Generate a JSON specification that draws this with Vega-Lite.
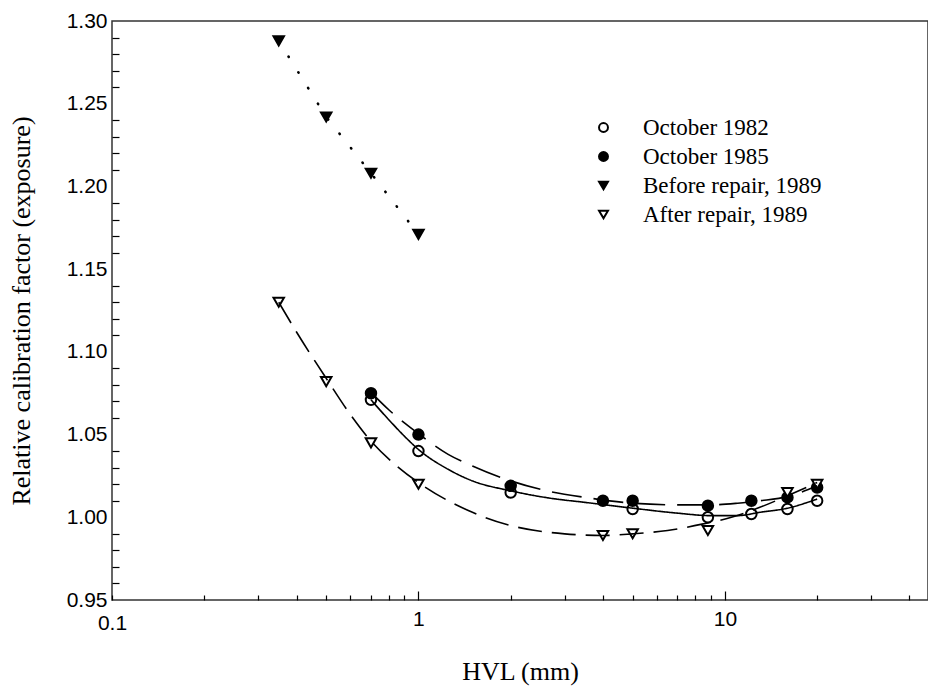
{
  "$schema": "https://vega.github.io/schema/vega-lite/v6.json",
  "width": 816,
  "height": 579,
  "autosize": {"type": "none"},
  "padding": {"left": 112, "top": 21, "right": 0, "bottom": 86},
  "background": "white",
  "config": {
    "view": {"stroke": "#333", "strokeWidth": 1.5},
    "axis": {
      "domain": false,
      "grid": false,
      "tickColor": "black",
      "tickWidth": 1.2,
      "labelFont": "Liberation Sans",
      "labelFontSize": 21,
      "labelColor": "black",
      "titleFont": "Liberation Serif",
      "titleFontSize": 26,
      "titleFontWeight": "normal",
      "titleColor": "black"
    },
    "legend": {
      "orient": "none",
      "legendX": 480,
      "legendY": 95,
      "padding": 0,
      "labelFont": "Liberation Serif",
      "labelFontSize": 23,
      "labelColor": "black",
      "labelOffset": 28,
      "labelLimit": 0,
      "rowPadding": 5,
      "symbolSize": 80,
      "symbolStrokeWidth": 2
    }
  },
  "datasets": {
    "points": [
      {"series": "October 1982", "hvl": 0.7, "factor": 1.071},
      {"series": "October 1982", "hvl": 1, "factor": 1.040},
      {"series": "October 1982", "hvl": 2, "factor": 1.015},
      {"series": "October 1982", "hvl": 5, "factor": 1.005},
      {"series": "October 1982", "hvl": 8.8, "factor": 1.000},
      {"series": "October 1982", "hvl": 12.2, "factor": 1.002},
      {"series": "October 1982", "hvl": 16, "factor": 1.005},
      {"series": "October 1982", "hvl": 20, "factor": 1.010},
      {"series": "October 1985", "hvl": 0.7, "factor": 1.075},
      {"series": "October 1985", "hvl": 1, "factor": 1.050},
      {"series": "October 1985", "hvl": 2, "factor": 1.019},
      {"series": "October 1985", "hvl": 4, "factor": 1.010},
      {"series": "October 1985", "hvl": 5, "factor": 1.010},
      {"series": "October 1985", "hvl": 8.8, "factor": 1.007},
      {"series": "October 1985", "hvl": 12.2, "factor": 1.010},
      {"series": "October 1985", "hvl": 16, "factor": 1.012},
      {"series": "October 1985", "hvl": 20, "factor": 1.018},
      {"series": "Before repair, 1989", "hvl": 0.35, "factor": 1.288},
      {"series": "Before repair, 1989", "hvl": 0.5, "factor": 1.242},
      {"series": "Before repair, 1989", "hvl": 0.7, "factor": 1.208},
      {"series": "Before repair, 1989", "hvl": 1, "factor": 1.171},
      {"series": "After repair, 1989", "hvl": 0.35, "factor": 1.130},
      {"series": "After repair, 1989", "hvl": 0.5, "factor": 1.082},
      {"series": "After repair, 1989", "hvl": 0.7, "factor": 1.045},
      {"series": "After repair, 1989", "hvl": 1, "factor": 1.020},
      {"series": "After repair, 1989", "hvl": 4, "factor": 0.989},
      {"series": "After repair, 1989", "hvl": 5, "factor": 0.990},
      {"series": "After repair, 1989", "hvl": 8.8, "factor": 0.992},
      {"series": "After repair, 1989", "hvl": 16, "factor": 1.015},
      {"series": "After repair, 1989", "hvl": 20, "factor": 1.020}
    ],
    "fits": [
      {"series": "October 1982", "hvl": 0.7, "factor": 1.071},
      {"series": "October 1982", "hvl": 0.8, "factor": 1.059},
      {"series": "October 1982", "hvl": 0.9, "factor": 1.049},
      {"series": "October 1982", "hvl": 1, "factor": 1.041},
      {"series": "October 1982", "hvl": 1.25, "factor": 1.029},
      {"series": "October 1982", "hvl": 1.5, "factor": 1.022},
      {"series": "October 1982", "hvl": 2, "factor": 1.016},
      {"series": "October 1982", "hvl": 2.7, "factor": 1.0115},
      {"series": "October 1982", "hvl": 3.5, "factor": 1.009},
      {"series": "October 1982", "hvl": 5, "factor": 1.0055},
      {"series": "October 1982", "hvl": 7, "factor": 1.0025},
      {"series": "October 1982", "hvl": 9, "factor": 1.001},
      {"series": "October 1982", "hvl": 11, "factor": 1.001},
      {"series": "October 1982", "hvl": 13, "factor": 1.003},
      {"series": "October 1982", "hvl": 16, "factor": 1.0055},
      {"series": "October 1982", "hvl": 20, "factor": 1.011},
      {"series": "October 1985", "hvl": 0.7, "factor": 1.0755},
      {"series": "October 1985", "hvl": 0.8, "factor": 1.065},
      {"series": "October 1985", "hvl": 0.9, "factor": 1.057},
      {"series": "October 1985", "hvl": 1, "factor": 1.0505},
      {"series": "October 1985", "hvl": 1.25, "factor": 1.038},
      {"series": "October 1985", "hvl": 1.5, "factor": 1.031},
      {"series": "October 1985", "hvl": 2, "factor": 1.022},
      {"series": "October 1985", "hvl": 2.7, "factor": 1.0155},
      {"series": "October 1985", "hvl": 3.5, "factor": 1.012},
      {"series": "October 1985", "hvl": 5, "factor": 1.0085},
      {"series": "October 1985", "hvl": 7, "factor": 1.0075},
      {"series": "October 1985", "hvl": 9, "factor": 1.0075},
      {"series": "October 1985", "hvl": 11, "factor": 1.0085},
      {"series": "October 1985", "hvl": 13, "factor": 1.010},
      {"series": "October 1985", "hvl": 16, "factor": 1.0125},
      {"series": "October 1985", "hvl": 20, "factor": 1.019},
      {"series": "After repair, 1989", "hvl": 0.35, "factor": 1.130},
      {"series": "After repair, 1989", "hvl": 0.4, "factor": 1.112},
      {"series": "After repair, 1989", "hvl": 0.5, "factor": 1.084},
      {"series": "After repair, 1989", "hvl": 0.6, "factor": 1.062},
      {"series": "After repair, 1989", "hvl": 0.7, "factor": 1.046},
      {"series": "After repair, 1989", "hvl": 0.85, "factor": 1.031},
      {"series": "After repair, 1989", "hvl": 1, "factor": 1.021},
      {"series": "After repair, 1989", "hvl": 1.5, "factor": 1.003},
      {"series": "After repair, 1989", "hvl": 2, "factor": 0.995},
      {"series": "After repair, 1989", "hvl": 3, "factor": 0.990},
      {"series": "After repair, 1989", "hvl": 4, "factor": 0.989},
      {"series": "After repair, 1989", "hvl": 5, "factor": 0.990},
      {"series": "After repair, 1989", "hvl": 6.5, "factor": 0.992},
      {"series": "After repair, 1989", "hvl": 8.5, "factor": 0.996},
      {"series": "After repair, 1989", "hvl": 10.5, "factor": 1.000},
      {"series": "After repair, 1989", "hvl": 13, "factor": 1.006},
      {"series": "After repair, 1989", "hvl": 16, "factor": 1.013},
      {"series": "After repair, 1989", "hvl": 20, "factor": 1.021}
    ],
    "before": [
      {"series": "Before repair, 1989", "hvl": 0.35, "factor": 1.288},
      {"series": "Before repair, 1989", "hvl": 0.5, "factor": 1.242},
      {"series": "Before repair, 1989", "hvl": 0.7, "factor": 1.208},
      {"series": "Before repair, 1989", "hvl": 1, "factor": 1.171}
    ]
  },
  "encoding": {
    "x": {
      "field": "hvl",
      "type": "quantitative",
      "scale": {"type": "log", "domain": [0.1, 46], "nice": false},
      "axis": {
        "title": "HVL (mm)",
        "values": [0.1, 0.2, 0.3, 0.4, 0.5, 0.6, 0.7, 0.8, 0.9, 1, 2, 3, 4, 5, 6, 7, 8, 9, 10, 20, 30, 40],
        "labelExpr": "datum.value == 0.1 ? '0.1' : datum.value == 1 ? '1' : datum.value == 10 ? '10' : ''",
        "labelOverlap": false,
        "labelFlush": false,
        "tickSize": {"condition": {"test": "datum.value == 1 || datum.value == 10", "value": -9}, "value": -5},
        "labelPadding": 17,
        "titlePadding": 25
      }
    },
    "y": {
      "field": "factor",
      "type": "quantitative",
      "scale": {"domain": [0.95, 1.30], "nice": false, "zero": false},
      "axis": {
        "title": "Relative calibration factor (exposure)",
        "values": [0.95, 0.96, 0.97, 0.98, 0.99, 1.00, 1.01, 1.02, 1.03, 1.04, 1.05, 1.06, 1.07, 1.08, 1.09, 1.10, 1.11, 1.12, 1.13, 1.14, 1.15, 1.16, 1.17, 1.18, 1.19, 1.20, 1.21, 1.22, 1.23, 1.24, 1.25, 1.26, 1.27, 1.28, 1.29, 1.30],
        "format": ".2f",
        "labelExpr": "abs(datum.value * 20 - round(datum.value * 20)) < 0.001 ? datum.label : ''",
        "labelOverlap": false,
        "labelFlush": false,
        "tickSize": -7,
        "tickOpacity": {"condition": {"test": "abs(datum.value * 20 - round(datum.value * 20)) < 0.001", "value": 0}, "value": 1},
        "labelPadding": 12,
        "titlePadding": 32
      }
    }
  },
  "layer": [
    {
      "data": {"name": "points"},
      "mark": {"type": "point", "strokeWidth": 2, "size": 110, "opacity": 1, "filled": false},
      "encoding": {
        "shape": {
          "field": "series",
          "type": "nominal",
          "scale": {"domain": ["October 1982", "October 1985", "Before repair, 1989", "After repair, 1989"], "range": ["circle", "circle", "triangle-down", "triangle-down"]},
          "legend": {"title": null}
        },
        "fill": {
          "field": "series",
          "type": "nominal",
          "scale": {"domain": ["October 1982", "October 1985", "Before repair, 1989", "After repair, 1989"], "range": ["white", "black", "black", "white"]},
          "legend": {"title": null}
        },
        "stroke": {
          "field": "series",
          "type": "nominal",
          "scale": {"domain": ["October 1982", "October 1985", "Before repair, 1989", "After repair, 1989"], "range": ["black", "black", "black", "black"]},
          "legend": {"title": null}
        }
      }
    },
    {
      "data": {"name": "fits"},
      "mark": {"type": "line", "color": "black", "strokeWidth": 1.6, "interpolate": "monotone"},
      "encoding": {
        "detail": {"field": "series", "type": "nominal"},
        "strokeDash": {
          "field": "series",
          "type": "nominal",
          "scale": {"domain": ["October 1982", "October 1985", "After repair, 1989"], "range": [[1, 0], [30, 12], [24, 10]]},
          "legend": null
        }
      }
    },
    {
      "data": {"name": "before"},
      "mark": {"type": "line", "color": "black", "strokeWidth": 2.6, "strokeCap": "round", "strokeDash": [0.5, 18]},
      "encoding": {}
    }
  ]
}
